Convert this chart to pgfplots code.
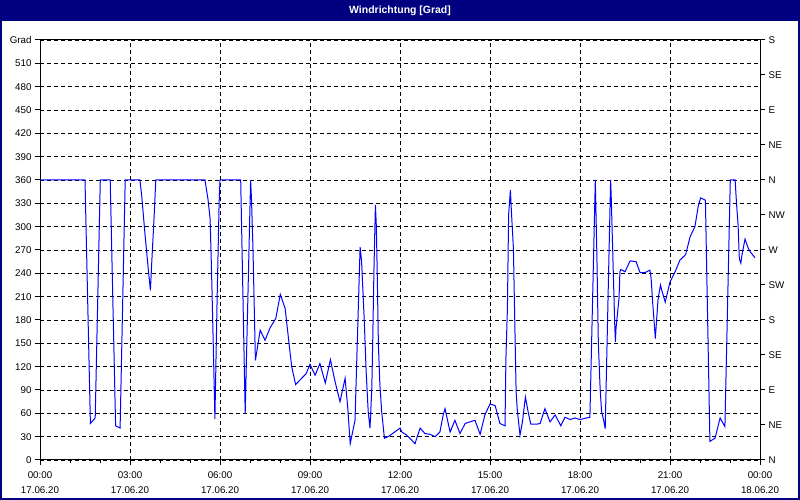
\documentclass[border=0pt]{standalone}
\usepackage{fontspec}
\setmainfont{Liberation Sans}
\usepackage{pgfplots}
\pgfplotsset{compat=1.18}
\definecolor{winnavy}{HTML}{000080}

\pgfplotsset{
  chartframe/.style={
    at={(40bp,40bp)}, anchor=south west,
    scale only axis, width=720bp, height=420bp,
    xmin=0, xmax=24, ymin=0, ymax=540,
    tick align=outside,
    major tick length=5bp, minor tick length=3bp,
    axis line style={black, line width=1bp},
    tick style={black, line width=1bp},
    tick label style={font=\fontsize{9.8}{15}\selectfont},
  },
}

\begin{document}
\begin{tikzpicture}[x=1bp,y=1bp]
\useasboundingbox (0,0) rectangle (800,500);
\fill[white] (0,0) rectangle (800,500);
\fill[winnavy] (0,479) rectangle (800,500);
\fill[winnavy] (0,0) rectangle (2,500);
\fill[winnavy] (798,0) rectangle (800,500);
\fill[winnavy] (0,0) rectangle (800,2);
\node[white, font=\bfseries\fontsize{10.5}{12}\selectfont] at (400,489.5) {Windrichtung [Grad]};

\begin{axis}[chartframe,
    xtick={0,3,...,24}, minor x tick num=2,
    ytick={0,30,...,540},
    yticklabels={0,30,60,90,120,150,180,210,240,270,300,330,360,390,420,450,480,510,\raisebox{-3bp}{Grad}},
    xticklabels={{00:00\\17.06.20},{03:00\\17.06.20},{06:00\\17.06.20},{09:00\\17.06.20},
                 {12:00\\17.06.20},{15:00\\17.06.20},{18:00\\17.06.20},{21:00\\17.06.20},
                 {00:00\\18.06.20}},
    xticklabel style={align=center, yshift=-3bp},
    xtick pos=bottom, ytick pos=left,
    grid=major,
    major grid style={black, line width=0.8bp, dash pattern=on 4bp off 3bp},
  ]
  \addplot[color=blue, line width=1bp, mark=none] coordinates {
    (0,360) (1.5,360) (1.68,47) (1.84,54) (2.01,360) (2.34,360) (2.52,44) (2.67,41)
    (2.84,360) (3.33,360) (3.39,340) (3.5,290) (3.61,245) (3.68,218) (3.72,250)
    (3.80,310) (3.86,360) (5.5,360) (5.6,335) (5.67,310) (5.72,240) (5.78,140)
    (5.83,53) (5.9,200) (5.97,330) (6.0,360) (6.69,360) (6.84,60) (7.02,360)
    (7.05,335) (7.1,270) (7.18,128) (7.34,167) (7.5,154) (7.67,170) (7.86,182)
    (8.01,213) (8.17,195) (8.33,140) (8.39,120) (8.52,97) (8.87,111) (9.0,123)
    (9.17,109) (9.33,124) (9.51,99) (9.68,129) (9.84,100) (10.0,75) (10.17,105)
    (10.26,66) (10.34,21) (10.5,51) (10.67,274) (10.72,255) (10.81,178) (10.87,115)
    (10.94,62) (11.0,41) (11.06,92) (11.09,152) (11.13,242) (11.18,328) (11.21,302)
    (11.24,242) (11.28,148) (11.33,96) (11.39,62) (11.48,28) (11.61,30) (12.0,41)
    (12.06,36) (12.22,32) (12.33,28) (12.5,21) (12.67,41) (12.83,34) (13.0,33)
    (13.17,30) (13.33,36) (13.44,58) (13.5,66) (13.67,36) (13.83,51) (14.0,34)
    (14.17,47) (14.33,49) (14.5,51) (14.67,33) (14.83,58) (15.0,72) (15.17,70)
    (15.33,47) (15.5,44) (15.53,130) (15.58,195) (15.62,315) (15.68,347) (15.71,322)
    (15.78,272) (15.83,169) (15.87,88) (15.91,64) (16.0,32) (16.08,49) (16.18,81)
    (16.28,60) (16.36,46) (16.56,46) (16.67,47) (16.83,66) (17.0,49) (17.17,58)
    (17.36,44) (17.5,55) (17.67,52) (17.83,54) (18.0,52) (18.11,53) (18.33,55)
    (18.51,360) (18.56,268) (18.61,152) (18.67,92) (18.72,62) (18.8,49) (18.84,40)
    (19.02,360) (19.04,339) (19.1,255) (19.13,212) (19.16,171) (19.18,152) (19.2,169)
    (19.3,208) (19.33,242) (19.36,245) (19.5,242) (19.67,256) (19.87,255) (20.0,241)
    (20.17,241) (20.33,244) (20.37,234) (20.42,203) (20.47,178) (20.51,156) (20.6,206)
    (20.68,225) (20.72,219) (20.84,203) (21.0,229) (21.17,242) (21.33,257) (21.52,264)
    (21.67,287) (21.83,300) (21.94,326) (22.02,337) (22.18,334) (22.33,24) (22.5,28)
    (22.67,54) (22.83,43) (23.01,360) (23.17,360) (23.22,328) (23.27,302) (23.31,259)
    (23.36,253) (23.4,264) (23.5,284) (23.61,272) (23.67,268) (23.83,260)
  };
\end{axis}

\begin{axis}[chartframe,
    axis x line=none, axis y line*=right,
    ytick={0,45,...,540},
    yticklabels={N,NE,E,SE,S,SW,W,NW,N,NE,E,SE,S},
  ]
\end{axis}
\end{tikzpicture}
\end{document}
